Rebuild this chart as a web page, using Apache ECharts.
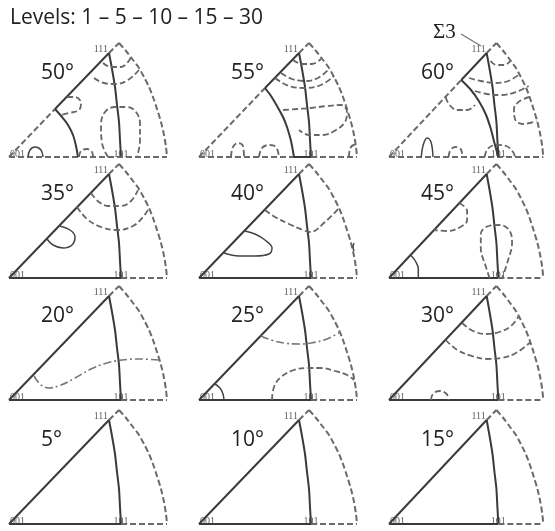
<!DOCTYPE html>
<html><head><meta charset="utf-8">
<script src="https://cdn.jsdelivr.net/npm/echarts@6/dist/echarts.min.js"></script>
<style>html,body{margin:0;padding:0;background:#fff}#c{width:555px;height:531px}</style>
</head><body><div id="c"></div>
<script>
// ---------- DATA ----------
const titleText = 'Levels: 1 \u2013 5 \u2013 10 \u2013 15 \u2013 30';
const angles = ['50°','55°','60°','35°','40°','45°','20°','25°','30°','5°','10°','15°'];
const vertexNames = ['001','101','111'];
// standard triangle geometry (local units)
const v001 = [0,0], v101 = [112,0], v111 = [100,104], vApex = [110,114], vEnd = [158,0];
const arc111to101 = [[100,104],[103,88],[106,70],[108,52],[110,35],[111,17],[112,0]];
const outerArc = [[110,114],[117,106],[124,97],[130,89],[135,80],[140,70],[144,60],[148,48],[152,35],[155,22],[157,10],[158,0]];
// region boundaries for high angles
const p50 = [46,48];
const bound50 = [[46,48],[53,40],[59,32],[64,22],[67,11],[69,0]];
const p55 = [66,69];
const q55 = [95,0];
const bound55 = [[66,69],[72,61],[78,51],[84,40],[88,30],[92,16],[95,0]];
const p60 = [74,77];
const bound60 = [[74,77],[84,67],[92,56],[99,43],[104,29],[108,14],[112,0]];
// contours: level 1 / 5 / 10
const c50 = [
  {lv:5, pts:[[94,94],[102,90],[112,90],[119,95],[122,100]]},
  {lv:5, pts:[[85,79],[95,74],[107,73],[119,77],[130,87]]},
  {lv:5, pts:[[58,60],[66,60],[72,54],[70,47],[60,44],[52,42]]},
  {lv:5, pts:[[99,0],[93,14],[92,32],[96,45],[106,50],[118,50],[127,45],[131,33],[131,17],[128,0]]},
  {lv:10, pts:[[19,0],[21,7],[26,10],[32,7],[34,0]]},
  {lv:5, pts:[[70,0],[72,6],[78,8],[83,5],[84,0]]}
];
const c55 = [
  {lv:5, pts:[[94,97],[103,93],[113,93],[122,98]]},
  {lv:5, pts:[[82,84],[93,78],[106,76],[119,79],[130,88]]},
  {lv:5, pts:[[76,79],[90,71],[106,69],[122,72],[135,81]]},
  {lv:5, pts:[[84,47],[98,48],[112,49],[128,51],[142,52],[148,45],[146,35],[137,27],[124,22],[110,22],[100,27]]},
  {lv:5, pts:[[32,0],[34,10],[39,14],[44,11],[45,0]]},
  {lv:5, pts:[[60,0],[63,9],[70,12],[77,10],[80,0]]},
  {lv:5, pts:[[150,0],[151,8],[155,12],[157,10]]}
];
const c60 = [
  {lv:5, pts:[[104,96],[110,92],[118,92],[125,97]]},
  {lv:5, pts:[[82,79],[94,76],[108,74],[122,76],[134,83]]},
  {lv:5, pts:[[88,66],[100,63],[115,62],[130,65],[143,71]]},
  {lv:5, pts:[[58,60],[62,52],[70,47],[80,47],[88,52]]},
  {lv:5, pts:[[144,60],[134,56],[128,48],[129,38],[137,33],[151,36]]},
  {lv:10, pts:[[33,0],[35,12],[39,19],[43,15],[45,0]]},
  {lv:5, pts:[[61,0],[63,7],[68,10],[74,7],[75,0]]},
  {lv:5, pts:[[98,0],[101,8],[110,12],[120,11],[127,5],[129,0]]}
];
const c35 = [
  {lv:5, pts:[[82,85],[90,76],[100,72],[112,72],[122,77],[129,88]]},
  {lv:5, pts:[[68,71],[78,59],[92,51],[108,48],[124,52],[134,61],[140,70]]},
  {lv:10, pts:[[38,39],[44,33],[54,30],[63,33],[66,41],[61,48],[50,52]]}
];
const c40 = [
  {lv:5, pts:[[66,68],[76,61],[90,54],[104,48],[111,46],[126,56],[140,70]]},
  {lv:10, pts:[[46,47],[56,44],[66,38],[73,30],[70,24],[56,22],[40,22],[25,25]]},
  {lv:10, pts:[[155,35],[154,31],[155,27]]}
];
const c45 = [
  {lv:5, pts:[[72,75],[80,67],[80,58],[73,51],[60,47],[46,48]]},
  {lv:10, pts:[[22,23],[27,17],[30,9],[30,0]]},
  {lv:5, pts:[[103,0],[99,12],[94,30],[94,44],[102,52],[113,53],[123,48],[126,35],[122,18],[116,0]]}
];
const c20 = [
  {lv:1, pts:[[25,24],[32,15],[40,12],[52,15],[66,22],[82,31],[98,37],[113,40],[130,41],[150,40]]}
];
const c25 = [
  {lv:1, pts:[[62,64],[72,60],[85,57],[100,56],[112,57],[128,61],[141,68]]},
  {lv:5, pts:[[73,0],[75,13],[82,23],[95,30],[108,32],[122,32],[136,29],[148,25],[155,20]]},
  {lv:10, pts:[[16,16],[21,12],[24,6],[25,0]]}
];
const c30 = [
  {lv:5, pts:[[75,77],[86,69],[100,66],[113,68],[125,74],[133,84]]},
  {lv:5, pts:[[58,60],[70,50],[85,44],[100,41],[115,42],[130,47],[145,58]]},
  {lv:5, pts:[[43,0],[45,6],[52,9],[59,6],[61,0]]}
];
const c5 = [], c10 = [], c15 = [];
const contours = [c50,c55,c60,c35,c40,c45,c20,c25,c30,c5,c10,c15];

// ---------- LAYOUT / STYLE ----------
const colX = [9,199,389];
const rowY = [157,278,400,524];
const SOLID = {color:'#3a3a3a', width:2, type:'solid'};
const DASH = {color:'#6a6a6a', width:2, type:[6,3]};
const levelStyle = {
  1: {color:'#777', width:1.6, type:[8,3,2,3]},
  5: {color:'#666', width:1.8, type:[6,3]},
  10:{color:'#444', width:1.5, type:'solid'}
};

const grids=[], xAxes=[], yAxes=[], series=[], titles=[];
function addLine(i, pts, style, smooth){
  series.push({type:'line', xAxisIndex:i, yAxisIndex:i, data:pts, symbol:'none', clip:false,
    smooth: smooth||false, silent:true, animation:false,
    lineStyle:{color:style.color, width:style.width, type:style.type, cap:'butt'}});
}
for(let i=0;i<12;i++){
  const ox = colX[i%3], oy = rowY[Math.floor(i/3)];
  grids.push({left:ox, top:oy-125, width:170, height:125, containLabel:false});
  xAxes.push({type:'value', gridIndex:i, min:0, max:170, show:false});
  yAxes.push({type:'value', gridIndex:i, min:0, max:125, show:false});
  addLine(i,[v111,vApex],DASH);
  addLine(i,outerArc,DASH,0.3);
  addLine(i,arc111to101,SOLID,0.3);
  if(i===0){
    addLine(i,[v001,p50],DASH); addLine(i,[p50,v111],SOLID);
    addLine(i,[v001,vEnd],DASH); addLine(i,bound50,SOLID,0.3);
  } else if(i===1){
    addLine(i,[v001,p55],DASH); addLine(i,[p55,v111],SOLID);
    addLine(i,[v001,q55],DASH); addLine(i,[q55,v101],SOLID); addLine(i,[v101,vEnd],DASH);
    addLine(i,bound55,SOLID,0.3);
  } else if(i===2){
    addLine(i,[v001,p60],DASH); addLine(i,[p60,v111],SOLID);
    addLine(i,[v001,vEnd],DASH); addLine(i,bound60,SOLID,0.3);
  } else {
    addLine(i,[v001,v111],SOLID);
    addLine(i,[v001,v101],SOLID);
    addLine(i,[v101,vEnd],DASH);
  }
  contours[i].forEach(c=>addLine(i,c.pts,levelStyle[c.lv],0.4));
  series.push({type:'scatter', xAxisIndex:i, yAxisIndex:i, symbolSize:0, silent:true, animation:false, clip:false,
    data:[
      {value:v001, label:{show:true, formatter:vertexNames[0], position:'insideLeft', offset:[-4,-3]}},
      {value:v101, label:{show:true, formatter:vertexNames[1], position:'inside', offset:[0,-3]}},
      {value:v111, label:{show:true, formatter:vertexNames[2], position:'left', offset:[4,-4]}}
    ],
    label:{fontFamily:'Liberation Serif', fontSize:10, color:'#333'}});
  titles.push({text:angles[i], left:ox+27, top:oy-99,
    textStyle:{fontFamily:'Open Sans', fontSize:21, fontWeight:'normal', color:'#222'}});
}
titles.push({text:titleText, left:5, top:3,
  textStyle:{fontFamily:'Open Sans', fontSize:21, fontWeight:'normal', color:'#222'}});
titles.push({text:'\u03A33', left:428, top:17,
  textStyle:{fontFamily:'Liberation Serif', fontSize:21, fontWeight:'normal', color:'#222'}});

const chart = echarts.init(document.getElementById('c'), null, {renderer:'canvas'});
chart.setOption({
  animation:false,
  backgroundColor:'#fff',
  title:titles,
  grid:grids, xAxis:xAxes, yAxis:yAxes, series:series,
  graphic:[{type:'line', shape:{x1:461, y1:34, x2:481, y2:46}, style:{stroke:'#777', lineWidth:1.3}}]
});
</script></body></html>
